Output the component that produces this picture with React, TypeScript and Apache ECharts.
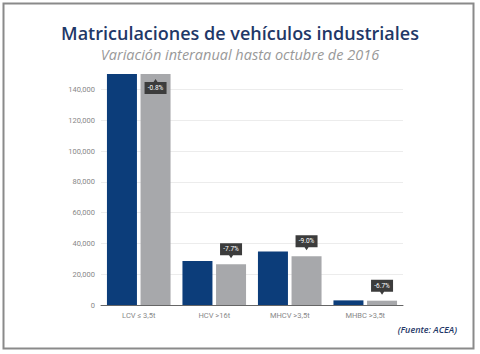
import React, { useEffect, useRef } from "react";
import * as echarts from "echarts";

const categories = ["LCV ≤ 3,5t", "HCV >16t", "MHCV >3,5t", "MHBC >3,5t"];
const registrations2015 = [158000, 28600, 34700, 3000];
const registrations2016 = [156700, 26400, 31600, 2800];
const variations = ["-0.8%", "-7.7%", "-9.0%", "-6.7%"];
const yTicks = { min: 0, max: 150000, interval: 20000 };

const BLUE = "#0c3d7a";
const GRAY = "#a7a8ab";

export default function App() {
  const ref = useRef<HTMLDivElement>(null);
  useEffect(() => {
    if (!ref.current) return;
    const chart = echarts.init(ref.current, undefined, { renderer: "svg" });
    const downPin = "path://M0,0H22V12H13L11,15L9,12H0Z";
    const upPin = "path://M0,3H9L11,0L13,3H22V15H0Z";
    const markData = registrations2016.map((v, i) => {
      const clipped = v > yTicks.max;
      return {
        coord: [i, Math.min(v, yTicks.max)],
        value: variations[i],
        symbol: clipped ? upPin : downPin,
        symbolSize: [22, 15],
        symbolOffset: [0, clipped ? 12.5 : -13.5],
        label: { offset: [0, clipped ? 1.5 : -1.5] },
      };
    });
    chart.setOption({
      animation: false,
      backgroundColor: "#ffffff",
      textStyle: { fontFamily: "Roboto" },
      title: [
        {
          text: "Matriculaciones de vehículos industriales",
          left: "center",
          top: 17,
          textStyle: { fontFamily: "Open Sans", fontSize: 18, fontWeight: 600, color: "#1f3867", lineHeight: 22 },
        },
        {
          text: "Variación interanual hasta octubre de 2016",
          left: "center",
          top: 41,
          textStyle: { fontFamily: "Open Sans", fontSize: 14.5, fontStyle: "italic", fontWeight: "normal", color: "#999999", lineHeight: 16 },
        },
        {
          text: "(Fuente: ACEA)",
          right: 18,
          top: 320,
          textStyle: { fontFamily: "Open Sans", fontSize: 9, fontStyle: "italic", fontWeight: 600, color: "#1f3867" },
        },
      ],
      graphic: [
        {
          type: "rect",
          shape: { x: 3.5, y: 3.5, width: 470, height: 345 },
          style: { fill: "none", stroke: "#8a8a8a", lineWidth: 2 },
          silent: true,
        },
      ],
      grid: { left: 101, right: 77, top: 74, bottom: 49 },
      xAxis: {
        type: "category",
        data: categories,
        axisLine: { lineStyle: { color: "#666", width: 1 } },
        axisTick: { show: false },
        axisLabel: { fontSize: 7.5, color: "#888", margin: 6 },
      },
      yAxis: {
        type: "value",
        min: yTicks.min,
        max: yTicks.max,
        interval: yTicks.interval,
        axisLine: { show: false },
        axisTick: { show: false },
        axisLabel: { fontSize: 7.5, color: "#888", margin: 6, showMaxLabel: false },
        splitLine: { showMaxLine: false, lineStyle: { color: "#ececec", width: 1 } },
      },
      series: [
        {
          type: "bar",
          data: registrations2015,
          barWidth: 30,
          barGap: "12%",
          itemStyle: { color: BLUE },
        },
        {
          type: "bar",
          data: registrations2016,
          barWidth: 30,
          itemStyle: { color: GRAY },
          markPoint: {
            silent: true,
            itemStyle: { color: "#3c3c3c" },
            label: { show: true, position: "inside", color: "#fff", fontSize: 6.5, formatter: (p: any) => p.value },
            data: markData,
          },
        },
      ],
    });
    return () => chart.dispose();
  }, []);
  return <div ref={ref} style={{ position: "fixed", left: 0, top: 0, width: 480, height: 354 }} />;
}
